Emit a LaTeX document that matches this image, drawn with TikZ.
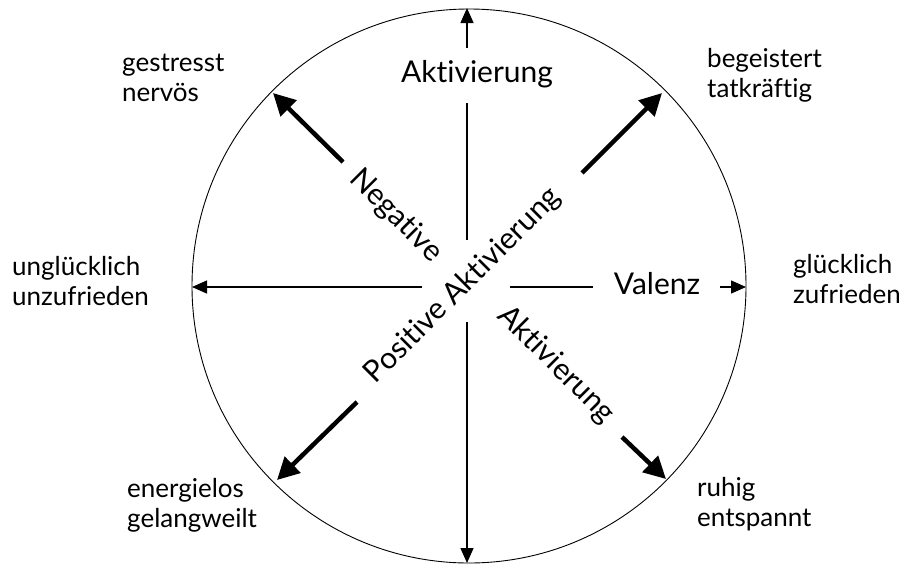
\documentclass[tikz,border=0pt]{standalone}
\usepackage{fontspec}
\setmainfont{Lato}[Ligatures={NoCommon}]
\usetikzlibrary{arrows.meta}
\begin{document}
\begin{tikzpicture}[x=1pt,y=-1pt,
  thinax/.style={line width=1.3pt,-{Triangle[length=15pt,width=13pt]}},
  thinline/.style={line width=1.3pt},
  thickarr/.style={line width=4.5pt,-{Triangle[length=22pt,width=22pt]}},
  biglbl/.style={inner sep=0pt,font=\fontsize{30}{35}\selectfont},
  smalllbl/.style={inner sep=0pt,align=left,anchor=base west,font=\fontsize{26}{29.5}\selectfont}]
\useasboundingbox (0,0) rectangle (899,566);
\coordinate (c) at (469,286);
\node[draw,circle,line width=0.9pt,minimum size=554pt,inner sep=0pt] (circ) at (c) {};
% vertical axis
\node[biglbl] (aktop) at (477,74) {Aktivierung};
\coordinate (vt1) at (467,48);
\coordinate (vtop) at (467,8);
\coordinate (vt2) at (467,103);
\coordinate (vt3) at (467,240);
\coordinate (vb1) at (467,322);
\coordinate (vbot) at (467,563);
\draw[thinax] (vt1) -- (vtop);
\draw[thinline] (vt2) -- (vt3);
\draw[thinax] (vb1) -- (vbot);
% horizontal axis
\coordinate (hl1) at (422,287);
\coordinate (hleft) at (192,287);
\coordinate (hr1) at (510,287);
\coordinate (hr2) at (593,287);
\node[biglbl] (valenz) at (657,284) {Valenz};
\coordinate (hr3) at (720,287);
\coordinate (hright) at (746,287);
\draw[thinax] (hl1) -- (hleft);
\draw[thinline] (hr1) -- (hr2);
\draw[thinax] (hr3) -- (hright);
% diagonal arrows
\coordinate (nw1) at (343,162); \coordinate (nw2) at (273,93);
\coordinate (ne1) at (582,173); \coordinate (ne2) at (662,93);
\coordinate (sw1) at (357,402); \coordinate (sw2) at (277,480);
\coordinate (se1) at (622,437); \coordinate (se2) at (666,479);
\draw[thickarr] (nw1) -- (nw2);
\draw[thickarr] (ne1) -- (ne2);
\draw[thickarr] (sw1) -- (sw2);
\draw[thickarr] (se1) -- (se2);
% diagonal labels
\node[biglbl,rotate=-45] (neg) at (396,216) {Negative};
\node[biglbl,rotate=45] (pos) at (463,286) {Positive Aktivierung};
\node[biglbl,rotate=-45] (aktse) at (556,365) {Aktivierung};
% outer labels (anchor = baseline of last line)
\node[smalllbl] (l1) at (122,101) {gestresst\\nervös};
\node[smalllbl] (l2) at (707,97) {begeistert\\tatkräftig};
\node[smalllbl] (l3) at (12,305) {unglücklich\\unzufrieden};
\node[smalllbl] (l4) at (793,303) {glücklich\\zufrieden};
\node[smalllbl] (l5) at (127,527) {energielos\\gelangweilt};
\node[smalllbl] (l6) at (697,526) {ruhig\\entspannt};
\end{tikzpicture}
\end{document}
